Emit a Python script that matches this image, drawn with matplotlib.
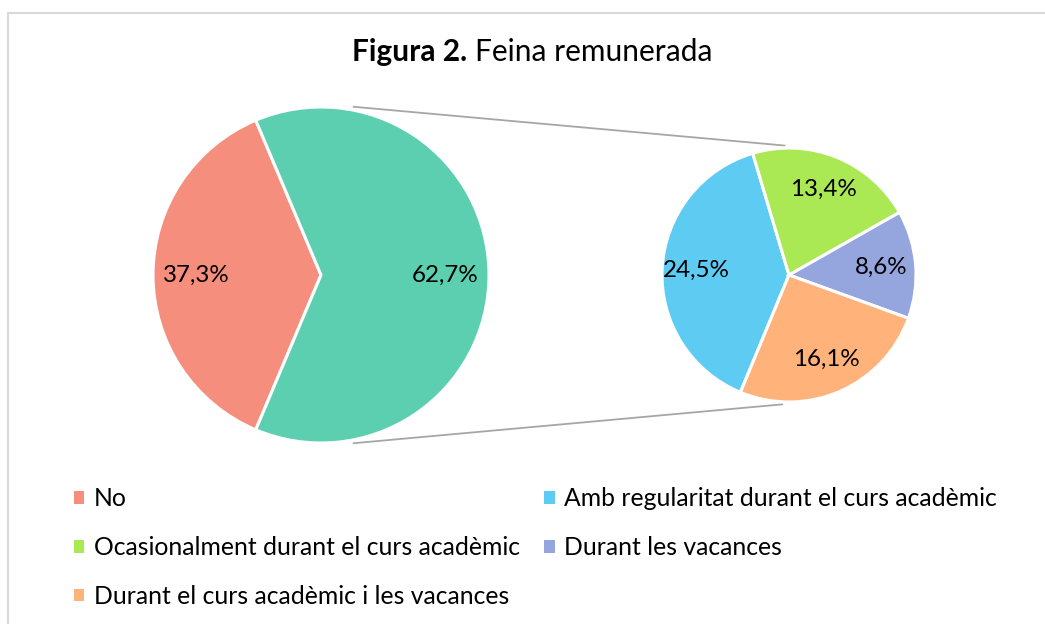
import matplotlib
matplotlib.use('Agg')
import matplotlib.pyplot as plt
from matplotlib.patches import Patch, Rectangle
import numpy as np

title_bold = "Figura 2."
title_rest = "Feina remunerada"
main_labels = ["No", "Sí"]
main_values = [37.3, 62.7]
sub_labels = ["Amb regularitat durant el curs acadèmic",
              "Ocasionalment durant el curs acadèmic",
              "Durant les vacances",
              "Durant el curs acadèmic i les vacances"]
sub_values = [24.5, 13.4, 8.6, 16.1]
main_colors = ["#F68E7E", "#5DCFB1"]
sub_colors = ["#5ECBF3", "#AAE854", "#95A5DE", "#FFB27A"]

FONT = ['Lato', 'DejaVu Sans']
W, H = 1045, 624
fig = plt.figure(figsize=(W / 100, H / 100), dpi=100)
ax = fig.add_axes([0, 0, 1, 1])


def fmt(v):
    return f"{v:.1f}%".replace('.', ',')


big_c = (321, H - 275)
big_r = 168
small_c = (789, H - 275)
small_r = 127

start_main = 180 - main_values[0] * 3.6 / 2
w1, t1 = ax.pie(main_values, colors=main_colors,
                labels=[fmt(v) for v in main_values], labeldistance=0.74,
                startangle=start_main, center=big_c, radius=big_r,
                wedgeprops=dict(edgecolor='white', linewidth=2.2),
                textprops=dict(fontsize=17.4, family=FONT, color='black'))
w2, t2 = ax.pie(sub_values, colors=sub_colors,
                labels=[fmt(v) for v in sub_values], labeldistance=0.73,
                startangle=247.5, counterclock=False,
                center=small_c, radius=small_r,
                wedgeprops=dict(edgecolor='white', linewidth=2.2),
                textprops=dict(fontsize=17.4, family=FONT, color='black'))
for t in list(t1) + list(t2):
    t.set_ha('center')
    t.set_va('center')

# connector lines (tangent-like, derived from pie geometry)
a_big_top, a_big_bot = np.deg2rad(79), np.deg2rad(-79)
a_sm_top, a_sm_bot = np.deg2rad(92), np.deg2rad(-93)
rb = big_r * 1.02
rs = small_r * 1.02
for ab, as_ in [(a_big_top, a_sm_top), (a_big_bot, a_sm_bot)]:
    ax.plot([big_c[0] + rb * np.cos(ab), small_c[0] + rs * np.cos(as_)],
            [big_c[1] + rb * np.sin(ab), small_c[1] + rs * np.sin(as_)],
            color='#A6A6A6', lw=1.3, zorder=0)

ax.set_xlim(0, W)
ax.set_ylim(0, H)
ax.set_aspect('equal')
ax.axis('off')

# chart border
ax.add_patch(Rectangle((8, -20), W + 30, H - 13 + 20, fill=False,
                       edgecolor='#D9D9D9', lw=1.5, clip_on=False))

# title
ax.text(467, H - 61, title_bold, ha='right', va='baseline', weight='bold',
        fontsize=21.5, family=FONT)
ax.text(475, H - 61, title_rest, ha='left', va='baseline',
        fontsize=21.5, family=FONT)

# legend (row-major order: No, Amb, Ocas, Vac, Curs+Vac)
all_labels = [main_labels[0]] + sub_labels
all_colors = [main_colors[0]] + sub_colors
order = [0, 2, 4, 1, 3]
handles = [Patch(facecolor=all_colors[i], edgecolor='none') for i in order]
labels = [all_labels[i] for i in order]
leg = ax.legend(handles, labels, ncol=2, loc='upper left',
                bbox_to_anchor=(74 / W, 1 - 487 / H), frameon=False,
                prop=dict(family=FONT, size=17.8), handlelength=0.42,
                handleheight=0.42, handletextpad=0.37, columnspacing=1.0,
                labelspacing=1.05, borderpad=0, borderaxespad=0)

fig.savefig('out.png', dpi=100, facecolor='white')
